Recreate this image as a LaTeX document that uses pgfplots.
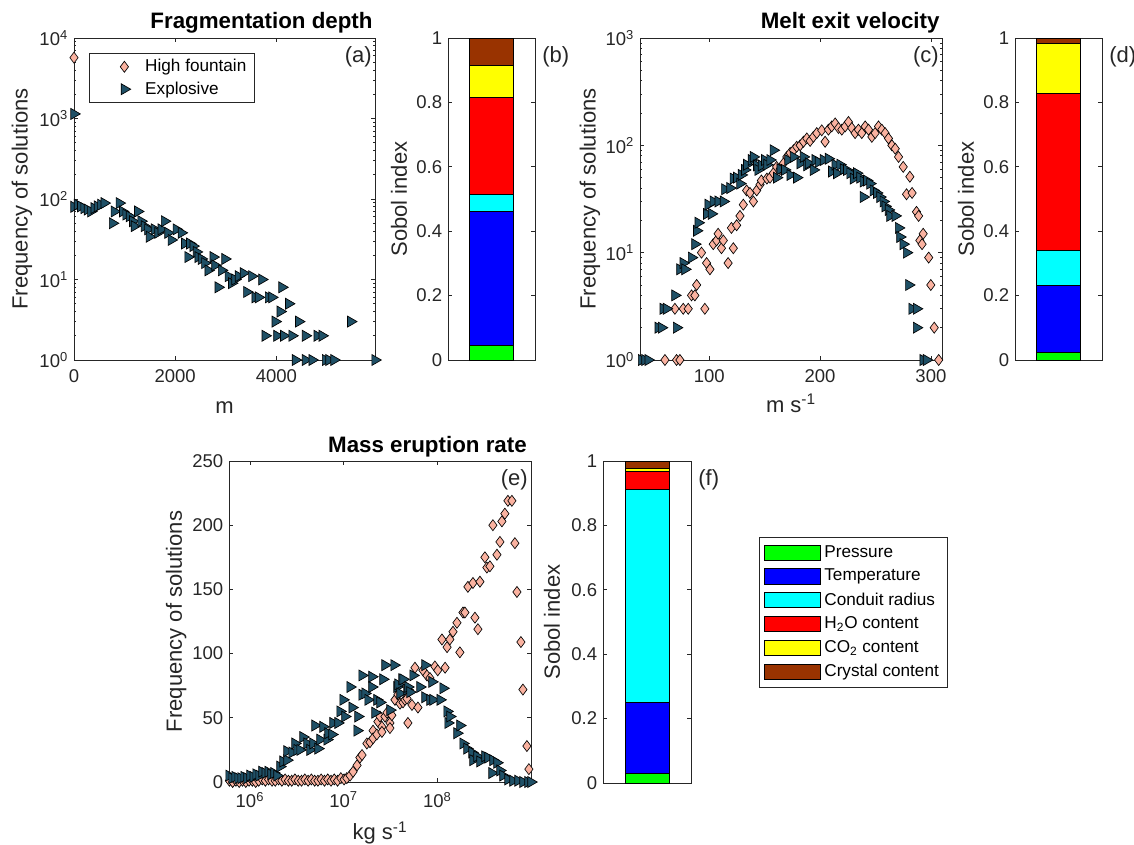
\documentclass[border=0pt]{standalone}
\usepackage{fontspec}
\setmainfont{Liberation Sans}
\usepackage{pgfplots}
\pgfplotsset{compat=1.18}

\definecolor{expl}{RGB}{31,80,102}
\definecolor{hf}{RGB}{250,178,160}
\definecolor{axgray}{RGB}{38,38,38}
\definecolor{sgreen}{RGB}{0,255,0}
\definecolor{sblue}{RGB}{0,0,255}
\definecolor{scyan}{RGB}{0,255,255}
\definecolor{sred}{RGB}{255,0,0}
\definecolor{syellow}{RGB}{255,255,0}
\definecolor{sbrown}{RGB}{153,51,0}

\newcommand\tickfont{\fontsize{11.1}{13}\selectfont}
\newcommand\labfont{\fontsize{13.2}{15}\selectfont}
\newcommand\titfont{\fontsize{13.4}{15}\selectfont\bfseries}
\newcommand\legfont{\fontsize{10.3}{12}\selectfont}

\pgfplotsset{
  every axis/.append style={
    scale only axis, clip=false, enlargelimits=false,
    axis line style={axgray, line width=0.45pt},
    tick style={axgray, line width=0.45pt},
    major tick length=2.2pt, minor tick length=1.2pt, tick align=inside,
    tick label style={font=\tickfont, text=axgray},
    xticklabel style={yshift=-2.5pt},
    label style={font=\labfont, text=axgray},
    /pgf/number format/assume math mode=true,
    /pgf/number format/1000 sep={},
  },
  hfm/.style={only marks, mark=diamond*, mark size=3.3pt,
    mark options={fill=hf, draw=black, line width=0.4pt}},
  exm/.style={only marks, mark=triangle*, mark size=3.8pt,
    mark options={fill=expl, draw=black, rotate=-90, line width=0.4pt}},
  sob/.style={fill=#1, draw=black, line width=0.4pt,
    legend image code/.code={\draw[##1] (0pt,-4.6pt) rectangle (33.6pt,4.6pt);}},
  sobolaxis/.style={width=52.2pt, height=193.2pt, ybar stacked, bar width=26.4pt,
    xmin=0, xmax=2, ymin=0, ymax=1, xtick=\empty,
    ytick={0,0.2,0.4,0.6,0.8,1}, ylabel={Sobol index}},
  markleg/.style={legend image code/.code={\path[draw=none] (0pt,0pt) (29pt,0pt);
    \draw[##1] plot coordinates {(18.5pt,0pt)};}},
}

\begin{document}
\begin{tikzpicture}
\useasboundingbox (0,0) rectangle (680.4pt,-506.4pt);

% (a) fragmentation depth
\begin{axis}[at={(44.4pt,-22.8pt)}, anchor=north west,
  width=180.6pt, height=193.2pt,
  ymode=log, xmin=0, xmax=5950, ymin=1, ymax=10000,
  xtick={0,2000,4000},
  ytick={1,10,100,1000,10000},
  yticklabels={10\textsuperscript{0},10\textsuperscript{1},10\textsuperscript{2},10\textsuperscript{3},10\textsuperscript{4}},
  minor ytick={2,3,4,5,6,7,8,9,20,30,40,50,60,70,80,90,200,300,400,500,600,700,800,900,2000,3000,4000,5000,6000,7000,8000,9000},
  xlabel={m}, ylabel={Frequency of solutions},
  xlabel style={at={(axis description cs:0.5,-0.165)}, anchor=base},
  ylabel style={at={(axis description cs:-0.173,0.5)}, anchor=center},
  legend style={at={(0.05,0.953)}, anchor=north west, draw=axgray, line width=0.4pt,
    font=\legfont, inner xsep=2.5pt, inner ysep=1.5pt, row sep=0.5pt},
  legend cell align=left,
]
\addplot[hfm, markleg] coordinates {(0,5700)};
\addplot[exm, markleg] coordinates {
(0,1140) (0,80) (66,85) (133,81) (199,77) (265,74) (332,70) (398,77) (464,81) (530,85)
(597,89) (796,70) (762,50) (895,89) (961,70) (1028,64) (1094,61) (1160,53) (1193,46)
(1260,70) (1326,53) (1392,46) (1459,42) (1492,34) (1591,42) (1658,38) (1724,42)
(1790,53) (1856,38) (1923,31) (2022,42) (2122,38) (2188,28) (2254,19) (2287,28)
(2354,26) (2420,22) (2453,19) (2519,18) (2586,16) (2652,13) (2751,19) (2785,15)
(2851,8) (2917,13) (2984,18) (3050,11) (3116,9) (3182,10) (3249,11) (3348,12)
(3415,7) (3514,11) (3580,6) (3647,6) (3713,10) (3845,6) (3912,6) (3978,3) (4077,4)
(4111,8) (4243,5) (3779,2) (4011,2) (4144,2) (4310,2) (4442,3) (4575,2) (4807,2)
(4906,2) (4376,1) (4575,1) (4707,1) (4972,1) (5039,1) (5138,1) (5470,3) (5950,1)
};
\legend{High fountain, Explosive}
\node[anchor=base east, font=\titfont, inner sep=0] at (rel axis cs:0.993,1.028) {Fragmentation depth};
\node[anchor=north east, font=\labfont, inner sep=0, text=axgray] at (rel axis cs:0.99,0.975) {(a)};
\end{axis}

% (b)
\begin{axis}[at={(268.8pt,-22.8pt)}, anchor=north west, sobolaxis,
  ylabel style={at={(axis description cs:-0.563,0.5)}, anchor=center}]
\addplot[sob=sgreen] coordinates {(1,0.047)};
\addplot[sob=sblue] coordinates {(1,0.414)};
\addplot[sob=scyan] coordinates {(1,0.054)};
\addplot[sob=sred] coordinates {(1,0.302)};
\addplot[sob=syellow] coordinates {(1,0.098)};
\addplot[sob=sbrown] coordinates {(1,0.085)};
\node[anchor=north west, font=\labfont, inner sep=0, text=axgray] at (rel axis cs:1.08,0.975) {(b)};
\end{axis}

% (c) melt exit velocity
\begin{axis}[at={(384pt,-22.8pt)}, anchor=north west,
  width=181.2pt, height=193.2pt,
  ymode=log, xmin=37.5, xmax=310, ymin=1, ymax=1000,
  xtick={100,200,300},
  ytick={1,10,100,1000},
  yticklabels={10\textsuperscript{0},10\textsuperscript{1},10\textsuperscript{2},10\textsuperscript{3}},
  minor ytick={2,3,4,5,6,7,8,9,20,30,40,50,60,70,80,90,200,300,400,500,600,700,800,900},
  xlabel={m s\textsuperscript{-1}}, ylabel={Frequency of solutions},
  xlabel style={at={(axis description cs:0.5,-0.162)}, anchor=base},
  ylabel style={at={(axis description cs:-0.166,0.5)}, anchor=center},
]
\addplot[hfm] coordinates {
(60,1) (70.5,1) (73.5,1) (69,3) (76.5,3) (81,3) (84,4) (87,4) (88.6,5) (96,3) (93,10)
(97.6,8) (100.6,7) (103.6,12) (106.6,13) (108,15) (111,11) (112.7,13) (117,8)
(121.7,11) (120,17) (124.7,18) (127.7,22) (130.7,28) (133.7,38) (136.7,36) (139.8,30)
(142.8,38) (145.8,43) (147,47) (152,49) (154.8,50) (157.8,55) (160.8,63) (163.9,60)
(167,68) (170,78) (173,85) (176,90) (178.9,97) (182,100) (185,108) (188,116) (191,110)
(194,120) (197,130) (201.5,138) (204.5,108) (207.5,140) (210.5,150) (213.6,160)
(216.6,145) (219.6,140) (222.6,150) (225.6,165) (228.6,145) (231.6,130) (234.6,140)
(237.6,130) (240.7,150) (243.7,140) (246.7,120) (249.7,130) (252.7,150) (255.7,140)
(258.7,130) (261.7,116) (264.8,100) (267.8,93) (270.8,78) (275,63) (281,51) (278,35)
(283,36) (287,24) (288.9,22) (293,15) (290,13) (292,12) (298,9) (299.9,5) (303,2) (307,1)
};
\addplot[exm] coordinates {
(38.9,1) (41.9,1) (44.9,1) (53.9,2) (56.9,2) (58.4,3) (61.4,3) (69,4) (70.5,2) (73.5,7)
(76.5,8) (78,7) (84,9) (87,12) (88.6,16) (90,19) (97.6,23) (99,28) (102,23) (103.6,30)
(108,30) (112.7,30) (114,39) (118.7,40) (121.7,49) (124.7,50) (127.7,44) (129,53)
(132,59) (133.7,66) (138,73) (139.8,78) (142.8,65) (144,59) (147,65) (150,73) (152,66)
(154.8,73) (157.8,90) (160.8,50) (163.9,60) (168,59) (171,73) (173,53) (176,78)
(178.9,50) (182,68) (185,78) (188,65) (189.5,68) (194,59) (195.5,73) (198.5,70)
(203,73) (207.5,75) (210.5,57) (213.6,66) (215,55) (218,66) (221,60) (224,59) (227,55)
(230,49) (233,55) (236,50) (239,46) (239,33) (242,47) (245,44) (248,38) (251,36)
(254,33) (257,30) (258.7,27) (261.7,25) (263,22) (267.8,22) (270.8,17) (272,14)
(275,12) (278,10) (280,5) (283,3) (287,3) (287,2) (293,1) (296,1)
};
\node[anchor=base east, font=\titfont, inner sep=0] at (rel axis cs:0.993,1.028) {Melt exit velocity};
\node[anchor=north east, font=\labfont, inner sep=0, text=axgray] at (rel axis cs:0.99,0.975) {(c)};
\end{axis}

% (d)
\begin{axis}[at={(609pt,-22.8pt)}, anchor=north west, sobolaxis,
  ylabel style={at={(axis description cs:-0.563,0.5)}, anchor=center}]
\addplot[sob=sgreen] coordinates {(1,0.024)};
\addplot[sob=sblue] coordinates {(1,0.207)};
\addplot[sob=scyan] coordinates {(1,0.111)};
\addplot[sob=sred] coordinates {(1,0.487)};
\addplot[sob=syellow] coordinates {(1,0.155)};
\addplot[sob=sbrown] coordinates {(1,0.016)};
\node[anchor=north west, font=\labfont, inner sep=0, text=axgray] at (rel axis cs:1.08,0.975) {(d)};
\end{axis}

% (e) mass eruption rate
\begin{axis}[at={(137.4pt,-276.6pt)}, anchor=north west,
  width=181.2pt, height=192.6pt,
  xmode=log, xmin=5.97e5, xmax=1e9, ymin=0, ymax=250,
  xtick={1e6,1e7,1e8}, xminorticks=false,
  xticklabels={10\textsuperscript{6},10\textsuperscript{7},10\textsuperscript{8}},
  ytick={0,50,100,150,200,250},
  xlabel={kg s\textsuperscript{-1}}, ylabel={Frequency of solutions},
  xlabel style={at={(axis description cs:0.5,-0.18)}, anchor=base},
  ylabel style={at={(axis description cs:-0.175,0.5)}, anchor=center},
]
\addplot[hfm] coordinates {
(6.03e5,1) (6.53e5,0) (7.08e5,1) (7.67e5,0) (8.32e5,1) (9.02e5,0) (9.77e5,1) (1.06e6,1)
(1.15e6,0) (1.24e6,1) (1.35e6,2) (1.46e6,1) (1.58e6,2) (1.72e6,1) (1.86e6,1) (2.02e6,2)
(2.19e6,1) (2.37e6,2) (2.57e6,1) (2.79e6,1) (3.02e6,2) (3.27e6,1) (3.55e6,1) (3.85e6,2)
(4.17e6,1) (4.52e6,2) (4.90e6,1) (5.31e6,1) (5.75e6,2) (6.24e6,1) (6.76e6,2) (7.33e6,1)
(7.94e6,2) (8.61e6,1) (9.33e6,3) (1.01e7,2)
(1.08e7,3) (1.17e7,5) (1.26e7,8) (1.39e7,13) (1.49e7,19) (1.57e7,21) (1.77e7,30)
(1.91e7,31) (2.06e7,40) (2.06e7,34) (2.26e7,37) (2.32e7,47) (2.44e7,51) (2.56e7,43)
(2.56e7,39) (2.76e7,51) (2.90e7,54) (3.12e7,46) (3.12e7,42) (3.27e7,52) (3.53e7,64)
(3.80e7,68) (3.99e7,61) (4.30e7,62) (4.51e7,64) (4.74e7,65) (4.85e7,46) (5.36e7,60)
(5.77e7,89) (6.21e7,58) (7.02e7,87) (7.74e7,83) (8.34e7,81) (9.42e7,90) (1.01e8,87)
(1.12e8,111) (1.21e8,89) (1.27e8,105) (1.36e8,111) (1.47e8,117) (1.62e8,124)
(1.74e8,101) (1.88e8,132) (1.97e8,132) (2.12e8,152) (2.40e8,155) (2.52e8,128)
(2.71e8,119) (2.85e8,156) (3.22e8,175) (3.38e8,167) (3.64e8,168) (3.92e8,200)
(4.33e8,177) (4.66e8,187) (4.89e8,203) (5.26e8,209) (5.67e8,219) (6.25e8,219)
(6.73e8,186) (7.08e8,148) (7.80e8,109) (8.20e8,72) (9.04e8,28) (9.49e8,10)
};
\addplot[exm] coordinates {
(5.97e5,5) (6.43e5,3) (6.92e5,4) (7.45e5,3) (8.02e5,3) (8.63e5,4) (9.29e5,3) (1.00e6,5)
(1.08e6,4) (1.16e6,6) (1.25e6,5) (1.34e6,8) (1.45e6,7) (1.56e6,8) (1.67e6,6) (1.80e6,7)
(1.94e6,5) (2.09e6,12) (2.25e6,16) (2.48e6,17) (2.48e6,24) (2.81e6,23) (3.02e6,30)
(3.18e6,25) (3.42e6,25) (3.68e6,35) (4.06e6,30) (4.37e6,25) (4.70e6,30) (4.94e6,44)
(5.32e6,26) (5.58e6,33) (6.01e6,43) (6.64e6,33) (6.80e6,38) (7.50e6,37) (7.69e6,46)
(8.69e6,46) (9.14e6,55) (9.84e6,64) (1.03e7,51) (1.17e7,74) (1.23e7,58) (1.39e7,40)
(1.42e7,51) (1.57e7,68) (1.57e7,83) (1.69e7,69) (1.82e7,64) (2.00e7,74) (2.00e7,82)
(2.16e7,54) (2.26e7,64) (2.44e7,62) (2.62e7,80) (2.76e7,91) (3.12e7,56) (3.45e7,91)
(3.71e7,74) (3.80e7,76) (3.99e7,69) (4.19e7,80) (4.30e7,80) (4.74e7,72) (4.85e7,74)
(5.10e7,70) (5.50e7,83) (6.52e7,74) (7.38e7,91) (7.38e7,66) (8.34e7,64) (8.76e7,78)
(8.98e7,64) (1.07e8,64) (1.15e8,73) (1.27e8,55) (1.30e8,46) (1.36e8,51) (1.62e8,38)
(1.74e8,44) (1.88e8,30) (2.07e8,26) (2.34e8,23) (2.40e8,17) (2.65e8,20) (2.85e8,16)
(3.22e8,20) (3.47e8,19) (3.83e8,7) (3.92e8,17) (4.33e8,15) (4.66e8,9) (5.01e8,5)
(5.67e8,2) (6.41e8,1) (7.25e8,1) (8.20e8,0) (9.27e8,0) (9.98e8,0)
};
\node[anchor=base east, font=\titfont, inner sep=0] at (rel axis cs:0.987,1.028) {Mass eruption rate};
\node[anchor=north east, font=\labfont, inner sep=0, text=axgray] at (rel axis cs:0.99,0.975) {(e)};
\end{axis}

% (f) with shared legend
\begin{axis}[at={(361.8pt,-276.6pt)}, anchor=north west, sobolaxis, width=52.8pt,
  ylabel style={at={(axis description cs:-0.58,0.5)}, anchor=center},
  legend style={at={(1.773,0.764)}, anchor=north west, draw=axgray, line width=0.4pt,
    font=\legfont, inner xsep=3pt, inner ysep=3pt, row sep=1.5pt},
  legend cell align=left,
]
\addplot[sob=sgreen] coordinates {(1,0.029)};
\addplot[sob=sblue] coordinates {(1,0.223)};
\addplot[sob=scyan] coordinates {(1,0.660)};
\addplot[sob=sred] coordinates {(1,0.055)};
\addplot[sob=syellow] coordinates {(1,0.010)};
\addplot[sob=sbrown] coordinates {(1,0.023)};
\legend{Pressure, Temperature, Conduit radius, H\textsubscript{2}O content, CO\textsubscript{2} content, Crystal content}
\node[anchor=north west, font=\labfont, inner sep=0, text=axgray] at (rel axis cs:1.08,0.975) {(f)};
\end{axis}
\end{tikzpicture}
\end{document}
